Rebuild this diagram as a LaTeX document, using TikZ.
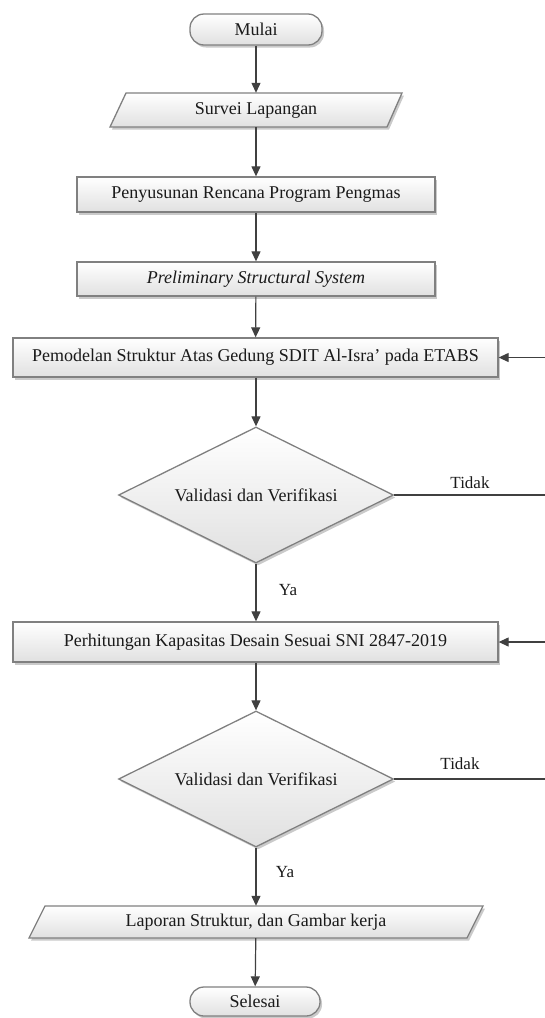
\documentclass[tikz,border=0pt]{standalone}
\usepackage{fontspec}
\setmainfont{Liberation Serif}
\usetikzlibrary{shapes.geometric,shadows,arrows.meta}
\definecolor{edgegray}{HTML}{808080}
\definecolor{conn}{HTML}{404040}
\definecolor{txt}{HTML}{1A1A1A}
\tikzset{
 boxfill/.style={top color=white, bottom color=black!12, draw=edgegray, line width=1.3pt,
   drop shadow={shadow xshift=2pt, shadow yshift=-2.5pt, opacity=0.35, fill=black!60}},
 bigfont/.style={font=\fontsize{18}{21}\selectfont, text=txt},
 procbox/.style={rectangle, boxfill, inner sep=0pt, bigfont},
 termbox/.style={procbox, rounded corners=14pt},
 decbox/.style={diamond, boxfill, shape aspect=2, inner sep=0pt, minimum width=275pt, minimum height=136pt, bigfont},
 iotext/.style={rectangle, inner sep=0pt, bigfont},
 flow/.style={draw=conn, line width=1.2pt, -{Triangle[length=10pt,width=9pt]}},
 plainline/.style={draw=conn, line width=1.2pt},
 lbl/.style={font=\fontsize{17}{20}\selectfont, text=txt, inner sep=0pt}
}
\begin{document}
\begin{tikzpicture}[x=1pt,y=-1pt]
\useasboundingbox (0,0) rectangle (545,1018);
% terminal start
\node[termbox, minimum width=132pt, minimum height=31pt] (mulai) at (256,29.5) {Mulai};
% survei parallelogram
\path[boxfill] (126,93) -- (402,93) -- (387,127) -- (110,127) -- cycle;
\node[iotext, minimum width=262pt, minimum height=34pt] (survei) at (256,110) {Survei Lapangan};
% process boxes
\node[procbox, minimum width=358pt, minimum height=35pt] (susun) at (256,194.5) {Penyusunan Rencana Program Pengmas};
\node[procbox, minimum width=358pt, minimum height=34pt] (prelim) at (256,279) {\itshape Preliminary Structural System};
\node[procbox, minimum width=485pt, minimum height=39pt] (model) at (255.5,357.5) {Pemodelan Struktur Atas Gedung SDIT Al-Isra' pada ETABS};
\node[decbox] (val1) at (256,495) {Validasi dan Verifikasi};
\node[procbox, minimum width=485pt, minimum height=40pt] (hitung) at (255.5,642) {Perhitungan Kapasitas Desain Sesuai SNI 2847-2019};
\node[decbox] (val2) at (256,779) {Validasi dan Verifikasi};
% laporan parallelogram
\path[boxfill] (45,906) -- (483,906) -- (467,938) -- (29,938) -- cycle;
\node[iotext, minimum width=438pt, minimum height=32pt] (lapor) at (256,922) {Laporan Struktur, dan Gambar kerja};
\node[termbox, minimum width=130pt, minimum height=29pt] (selesai) at (255,1001.5) {Selesai};
% labels
\node[lbl] (tidak1) at (470,483) {Tidak};
\node[lbl] (ya1) at (288,590) {Ya};
\node[lbl] (tidak2) at (460,764) {Tidak};
\node[lbl] (ya2) at (285,872) {Ya};
% edge coordinates
\coordinate (r1in) at (545,357.5);
\coordinate (r1out) at (545,495);
\coordinate (r2in) at (545,642);
\coordinate (r2out) at (545,779);
% connectors
\draw[flow] (mulai) -- (survei);
\draw[flow] (survei) -- (susun);
\draw[flow] (susun) -- (prelim);
\draw[flow] (prelim) -- (model);
\draw[flow] (model.south -| val1.north) -- (val1.north);
\draw[flow] (val1.south) -- (val1.south |- hitung.north);
\draw[flow] (hitung.south -| val2.north) -- (val2.north);
\draw[flow] (val2.south) -- (lapor.north);
\draw[flow] (lapor) -- (selesai);
\draw[plainline] (val1.east) -- (r1out);
\draw[plainline] (val2.east) -- (r2out);
\draw[flow] (r1in) -- (model.east);
\draw[flow] (r2in) -- (hitung.east);
\end{tikzpicture}
\end{document}
